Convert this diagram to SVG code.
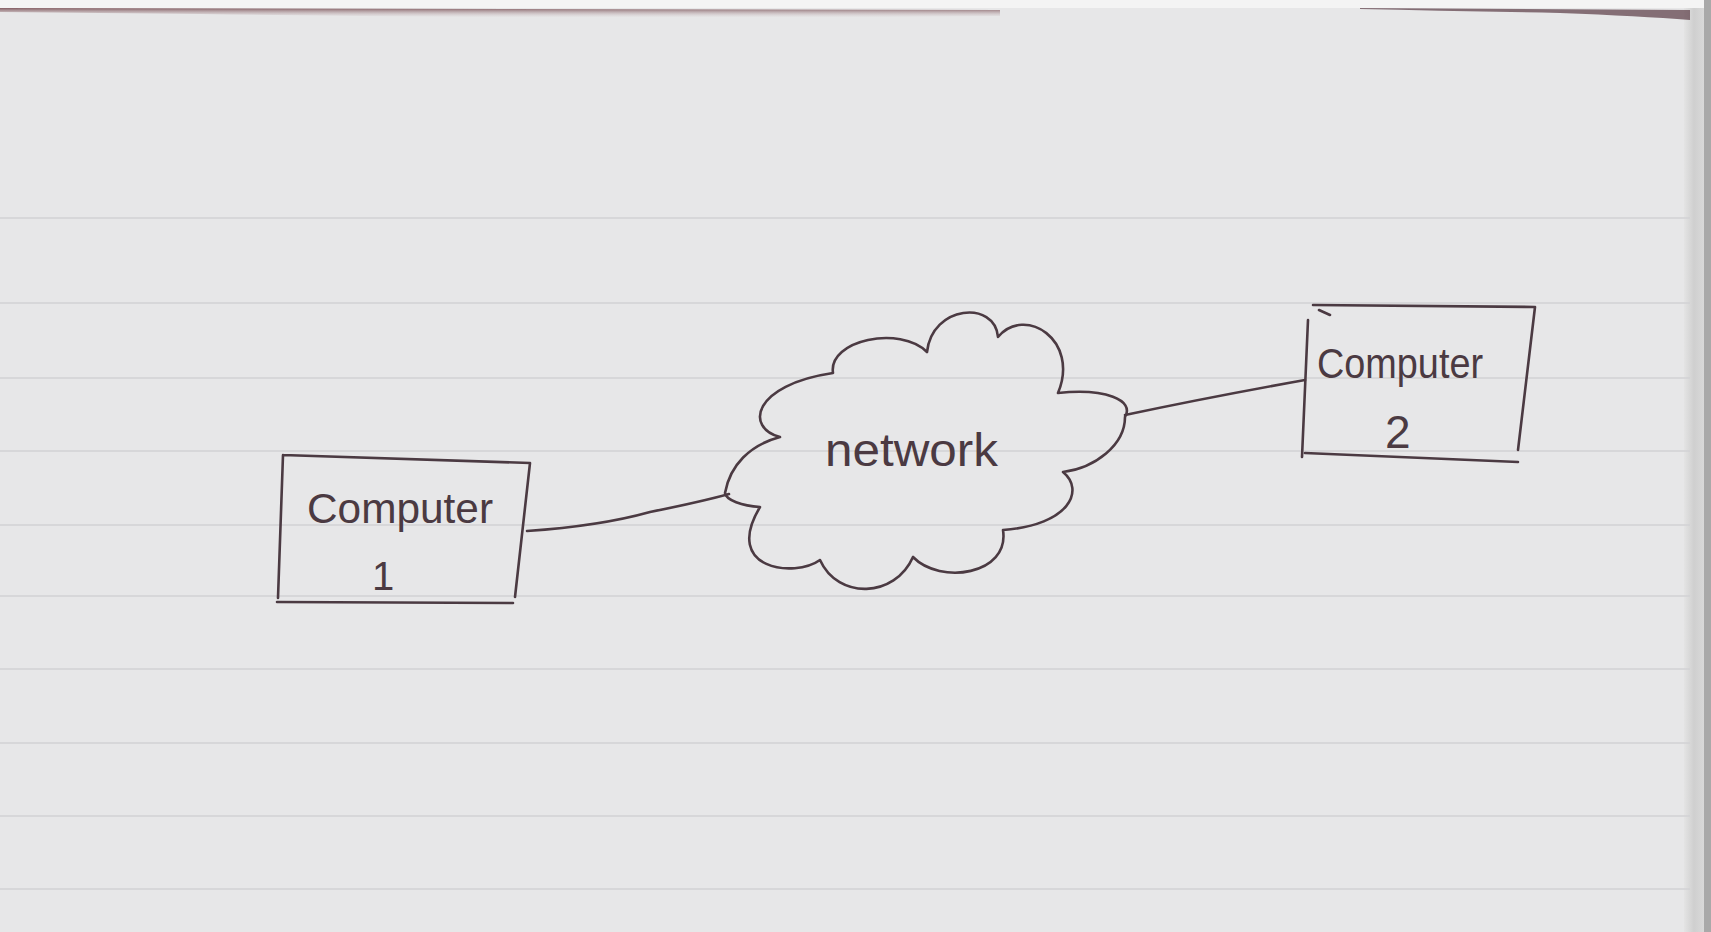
<svg xmlns="http://www.w3.org/2000/svg" width="1711" height="932" viewBox="0 0 1711 932">
<defs>
<linearGradient id="edge" x1="0" y1="0" x2="1" y2="0">
<stop offset="0" stop-color="#e4e4e4"/>
<stop offset="0.5" stop-color="#cfcfcf"/>
<stop offset="1" stop-color="#d9d9d9"/>
</linearGradient>
<linearGradient id="topedge" x1="0" y1="0" x2="0" y2="1">
<stop offset="0" stop-color="#6a3a40"/>
<stop offset="1" stop-color="#c9b8bb" stop-opacity="0"/>
</linearGradient>
</defs>
<style>
.ink{fill:none;stroke:#4b3a42;stroke-width:2.6;stroke-linecap:round;stroke-linejoin:round}
.rule{stroke:#d2d2d4;stroke-width:1.6}
.hand{font-family:"Liberation Sans",Arial,sans-serif;fill:#4b3a42;font-weight:normal}
</style>
<rect width="1711" height="932" fill="#f4f4f4"/>
<rect x="0" y="8" width="1700" height="924" fill="#e7e7e8"/>
<rect x="1684" y="8" width="20" height="924" fill="url(#edge)"/>
<rect x="1704" y="0" width="7" height="932" fill="#a9a9a9"/>
<path d="M0 8 L1000 10 L1000 16 Q600 20 200 14 L0 12 Z" fill="url(#topedge)" opacity="0.8"/>
<path d="M1360 8 L1690 10 L1690 20 Q1640 16 1560 13 Q1450 11 1360 9 Z" fill="#5a3a44" opacity="0.7"/>
<g id="rules">
<line class="rule" x1="0" y1="218" x2="1690" y2="218"/>
<line class="rule" x1="0" y1="303" x2="1690" y2="303"/>
<line class="rule" x1="0" y1="378" x2="1690" y2="378"/>
<line class="rule" x1="0" y1="451" x2="1690" y2="451"/>
<line class="rule" x1="0" y1="525" x2="1690" y2="525"/>
<line class="rule" x1="0" y1="596" x2="1690" y2="596"/>
<line class="rule" x1="0" y1="669" x2="1690" y2="669"/>
<line class="rule" x1="0" y1="743" x2="1690" y2="743"/>
<line class="rule" x1="0" y1="816" x2="1690" y2="816"/>
<line class="rule" x1="0" y1="889" x2="1690" y2="889"/>
</g>
<g id="connectors">
<path class="ink" d="M527 531 Q600 526 650 512 Q700 502 729 494"/>
<path class="ink" d="M1125 415 Q1210 397 1305 380"/>
</g>
<g id="computer1">
<path class="ink" d="M283 455 L530 463 M530 463 L515 597 M277 602 L513 603 M283 455 L278 598"/>
<text class="hand" x="307" y="523" font-size="42" textLength="186" lengthAdjust="spacingAndGlyphs">Computer</text>
<text class="hand" x="372" y="590" font-size="40">1</text>
</g>
<g id="network">
<path class="ink" d="M725 493 C730 465 750 445 780 437 C745 428 752 385 833 373 C828 340 900 325 927 352 C932 305 995 300 998 337 C1025 305 1080 340 1058 393 C1105 388 1135 400 1125 417 C1125 445 1095 468 1063 472 C1085 490 1070 525 1003 530 C1010 575 940 585 913 557 C895 598 838 600 820 560 C795 578 722 570 760 507 C742 506 726 500 725 493 Z"/>
<text class="hand" x="825" y="466" font-size="46" textLength="173" lengthAdjust="spacingAndGlyphs">network</text>
</g>
<g id="computer2">
<path class="ink" d="M1313 305 L1535 307 M1535 307 L1518 450 M1305 453 L1518 462 M1308 320 L1302 457 M1319 310 L1330 315"/>
<text class="hand" x="1317" y="378" font-size="42" textLength="166" lengthAdjust="spacingAndGlyphs">Computer</text>
<text class="hand" x="1385" y="448" font-size="46">2</text>
</g>
</svg>
